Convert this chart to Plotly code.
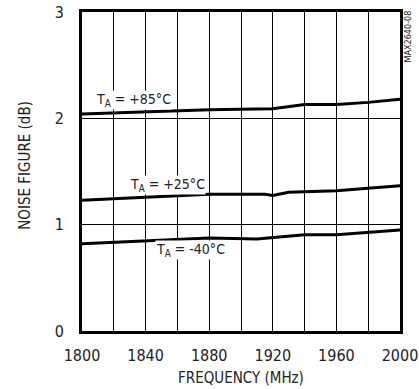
import plotly.graph_objects as go

freq_85 = [1800, 1840, 1880, 1920, 1940, 1960, 1980, 2000]
nf_85 = [2.04, 2.06, 2.08, 2.09, 2.13, 2.13, 2.15, 2.18]

freq_25 = [1800, 1840, 1880, 1915, 1920, 1930, 1960, 2000]
nf_25 = [1.23, 1.26, 1.285, 1.285, 1.275, 1.305, 1.32, 1.365]

freq_m40 = [1800, 1840, 1880, 1910, 1920, 1940, 1960, 2000]
nf_m40 = [0.82, 0.85, 0.875, 0.865, 0.88, 0.905, 0.905, 0.95]

series = [
    (freq_85, nf_85, "T<sub>A</sub> = +85°C", 1832.5, 2.175),
    (freq_25, nf_25, "T<sub>A</sub> = +25°C", 1854, 1.375),
    (freq_m40, nf_m40, "T<sub>A</sub> = -40°C", 1868.5, 0.76),
]

FONT = "DejaVu Sans Condensed, sans-serif"

fig = go.Figure()
for xs, ys, name, lx, ly in series:
    fig.add_trace(go.Scatter(x=xs, y=ys, mode="lines", name=name,
                             line=dict(color="black", width=3), showlegend=False))
    fig.add_annotation(x=lx, y=ly, xref="x", yref="y", text=name, showarrow=False,
                       bgcolor="white", font=dict(family=FONT, size=14, color="#222"),
                       borderpad=0)

fig.add_annotation(x=(408-82)/318, y=(331-37)/318.5, xref="paper", yref="paper",
                   text="MAX2640-08", textangle=-90, showarrow=False,
                   xanchor="center", yanchor="middle",
                   font=dict(family=FONT, size=9, color="#222"))

# axis titles
fig.add_annotation(x=0.5, y=(331-378)/318.5, xref="paper", yref="paper",
                   text="FREQUENCY (MHz)", showarrow=False,
                   xanchor="center", yanchor="middle",
                   font=dict(family=FONT, size=15, color="#222"))
fig.add_annotation(x=(25-82)/318, y=(331-166)/318.5, xref="paper", yref="paper",
                   text="NOISE FIGURE (dB)", textangle=-90, showarrow=False,
                   xanchor="center", yanchor="middle",
                   font=dict(family=FONT, size=15, color="#222"))

fig.update_layout(
    width=419, height=389,
    margin=dict(l=82, r=19, t=12, b=58, autoexpand=False),
    plot_bgcolor="white", paper_bgcolor="white",
    font=dict(family=FONT, size=16, color="#222"),
)
fig.update_xaxes(
    range=[1800, 2000], dtick=40, tick0=1800,
    showgrid=True, gridcolor="black", gridwidth=1.2,
    minor=dict(dtick=20, showgrid=True, gridcolor="black", gridwidth=1.2),
    showline=True, linecolor="black", linewidth=3, mirror=True,
    ticks="", ticklabelstandoff=8, ticklabeloverflow="allow", zeroline=False,
    automargin=False,
)
fig.update_yaxes(
    range=[0, 3], dtick=1,
    showgrid=True, gridcolor="black", gridwidth=1.2,
    showline=True, linecolor="black", linewidth=3, mirror=True,
    ticks="", ticklabelstandoff=12, zeroline=False,
    automargin=False,
)

fig.write_html("out.html")
